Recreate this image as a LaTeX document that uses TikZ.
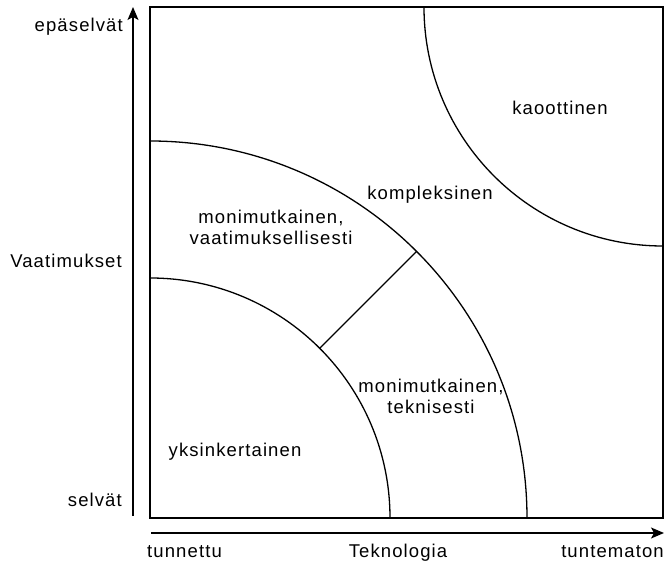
\documentclass[tikz,border=0pt]{standalone}
\usepackage{fontspec}
\setmainfont{Liberation Sans}[LetterSpace=6]
\usetikzlibrary{arrows.meta,calc}
\tikzset{
  lbl/.style={inner sep=0pt, font=\fontsize{18.5}{21}\selectfont, text=black},
  mlbl/.style={lbl, align=center},
  frame/.style={draw=black, line width=1.3pt},
  curve/.style={draw=black, line width=1.3pt},
  axis/.style={draw=black, line width=1.3pt, -{Stealth[length=13pt,width=11pt,inset=3pt]}}
}
\begin{document}
\begin{tikzpicture}[x=1pt,y=1pt]
\useasboundingbox (0,0) rectangle (665,565);
% frame
\draw[frame] (150,47) rectangle (663,558);
% centres
\coordinate (bl) at (150,47);
\coordinate (tr) at (663,558);
% arcs
\draw[curve] (150,287) arc[start angle=90, end angle=0, radius=240];
\draw[curve] (150,424) arc[start angle=90, end angle=0, radius=377];
\draw[curve] (424,558) arc[start angle=180, end angle=270, radius=239];
% divider
\coordinate (d1) at ($(bl)+(45:240)$);
\coordinate (d2) at ($(bl)+(45:377)$);
\draw[curve] (d1) -- (d2);
% axes
\coordinate (v0) at (133,49);
\coordinate (v1) at (133,558);
\coordinate (h0) at (151,32);
\coordinate (h1) at (664,32);
\draw[axis] (v0) -- (v1);
\draw[axis] (h0) -- (h1);
% axis labels
\node[lbl, anchor=base east] (epa) at (123,533) {epäselvät};
\node[lbl, anchor=base east] (vaat) at (122,297) {Vaatimukset};
\node[lbl, anchor=base east] (selv) at (122,58) {selvät};
\node[lbl, anchor=base west] (tunn) at (147,7) {tunnettu};
\node[lbl, anchor=base] (tekn) at (398,7) {Teknologia};
\node[lbl, anchor=base east] (tunt) at (664,7) {tuntematon};
% region labels
\node[lbl, anchor=base] (kaos) at (560,450) {kaoottinen};
\node[lbl, anchor=base] (komp) at (430,365) {kompleksinen};
\node[mlbl] (mvaat) at (271,338) {monimutkainen,\\vaatimuksellisesti};
\node[mlbl] (mtekn) at (431,169) {monimutkainen,\\teknisesti};
\node[lbl, anchor=base] (yks) at (235,108) {yksinkertainen};
\end{tikzpicture}
\end{document}
